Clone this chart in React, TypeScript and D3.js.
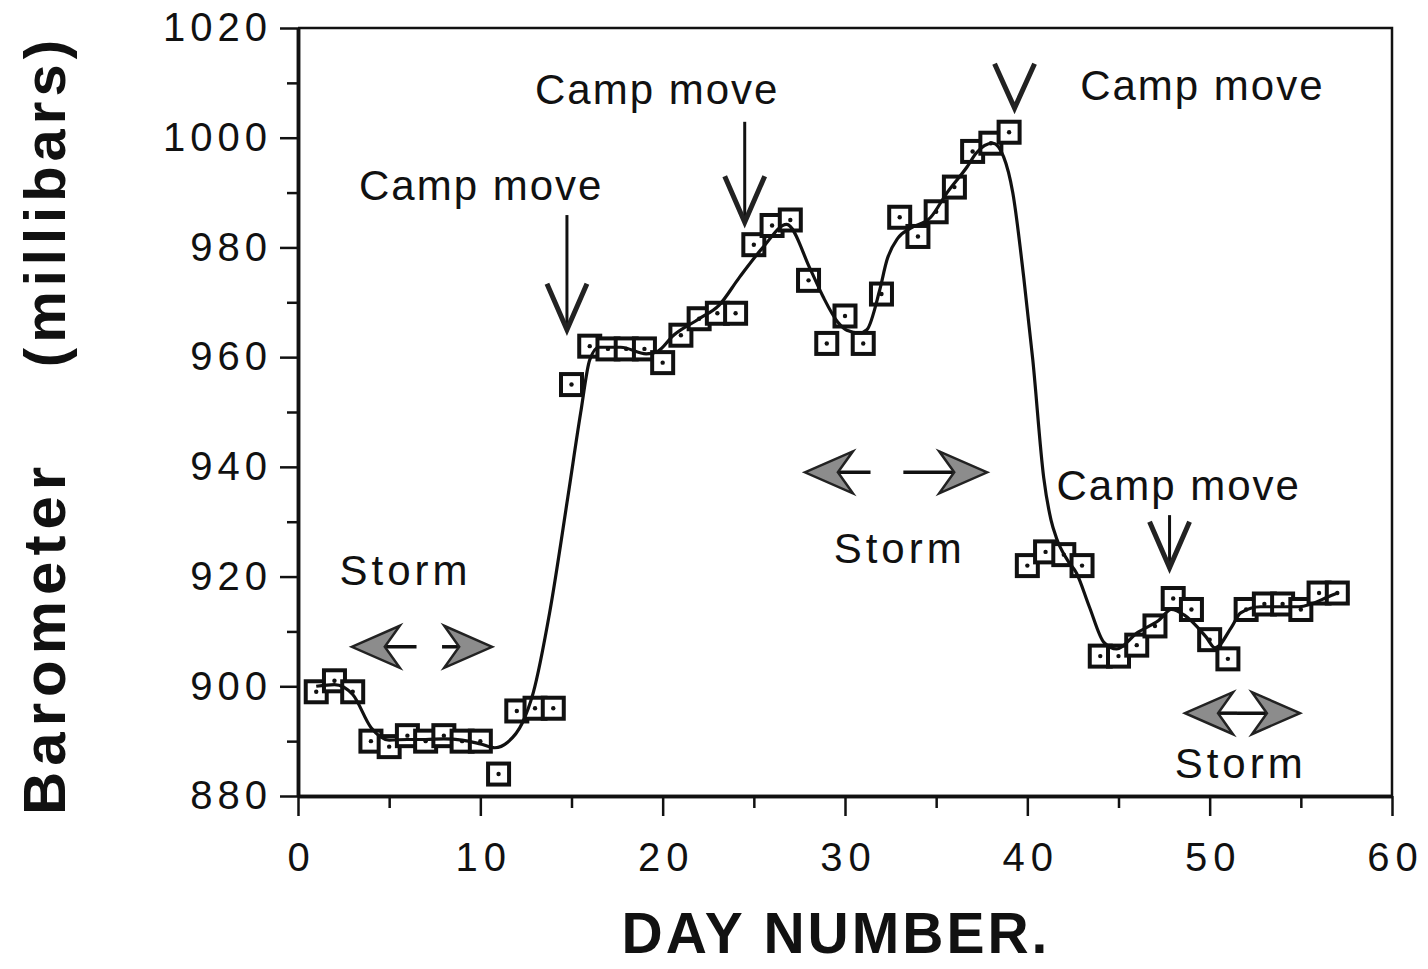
import React, { useRef, useEffect } from "react"
import * as d3 from "d3"

// measured barometer readings, one per day
const days = [
    1, 2, 3, 4, 5, 6, 7, 8, 9, 10, 11, 12, 13, 14, 15, 16, 17, 18, 19, 20, 21,
    22, 23, 24, 25, 26, 27, 28, 29, 30, 31, 32, 33, 34, 35, 36, 37, 38, 39, 40,
    41, 42, 43, 44, 45, 46, 47, 48, 49, 50, 51, 52, 53, 54, 55, 56, 57,
]
const pressure = [
    899, 901, 899, 890, 889, 891, 890, 891, 890, 890, 884, 895.5, 896, 896, 955,
    962, 961.5, 961.5, 961.5, 959, 964, 967, 968, 968, 980.5, 984, 985, 974,
    962.5, 967.5, 962.5, 971.5, 985.5, 982, 986.5, 991, 997.5, 999, 1001, 922,
    924.5, 924, 922, 905.5, 905.5, 907.5, 911, 916, 914, 908.5, 905, 914, 915,
    915, 914, 917, 917,
]

// smoothed trend line as drawn on the figure
const fitDays = [
    1, 2, 3, 4, 5, 6, 7, 8, 9, 10, 10.8, 11.5, 12.3, 12.9, 13.8, 14.8, 15.5,
    16, 16.5, 17.7, 19.1, 19.7, 20.6, 22, 23.1, 24.2, 25.5, 26.8, 28.1, 28.8,
    29.6, 30.1, 30.8, 31.2, 31.9, 32.3, 32.9, 33.6, 34.7, 35.6, 36.7, 37.2,
    38.1, 38.7, 39.2, 39.8, 40.3, 40.9, 41.3, 41.6, 42.2, 42.7, 43.4, 44.2,
    44.9, 46, 47.2, 47.9, 48.6, 49.8, 50.3, 51.2, 51.7, 52.8, 54.9, 56.7, 57,
]
const fitValues = [
    900, 900.3, 898.5, 892.5, 890.2, 890.3, 890.3, 890.4, 890.2, 889.5, 888.8,
    889.8, 893.3, 898.8, 913.4, 934.5, 949.8, 959.5, 961.8, 961.8, 960.6, 961,
    964, 967, 969.5, 974.5, 980, 984.2, 976, 971, 966.4, 964.9, 964.4, 965,
    972.2, 977.7, 981.7, 983.5, 985.5, 990, 994.7, 997.2, 999, 996.5, 990,
    974.6, 959.5, 938, 930.3, 927, 923, 920.6, 914.5, 908, 906.8, 909.7, 912,
    914, 913, 909, 907, 910.8, 913.4, 914.5, 914.5, 916.6, 917,
]

const yTicks = [880, 900, 920, 940, 960, 980, 1000, 1020]
const yMinor = [890, 910, 930, 950, 970, 990, 1010]
const xTicks = [0, 10, 20, 30, 40, 50, 60]
const xMinor = [5, 15, 25, 35, 45, 55]

// annotations in data units: [textDay, textMb, arrowDay, arrowTopMb, arrowTipMb]
const campMoves = [
    [10.05, 988.6, 14.75, 985.9, 965],
    [19.7, 1006.1, 24.5, 1002.9, 984.6],
    [49.6, 1006.9, 39.3, 1013.5, 1005.4],
    [48.3, 934, 47.8, 931.2, 921.6],
]
// [textDay, textMb, arrowMb, leftTip, leftEnd, rightStart, rightTip]
const storms = [
    [5.9, 918.5, 907.2, 2.95, 6.5, 7.9, 10.65],
    [33, 922.5, 939, 27.8, 31.4, 33.2, 37.8],
    [51.7, 883.3, 895.1, 48.65, 51.5, 51.5, 54.95],
]

const FONT = "'Liberation Sans', Arial, Helvetica, sans-serif"

export default function App() {
    const ref = useRef<SVGSVGElement>(null)

    useEffect(() => {
        const svg = d3.select(ref.current)
        svg.selectAll("*").remove()

        const x = d3.scaleLinear().domain([0, 60]).range([298, 1392])
        const y = d3.scaleLinear().domain([880, 1020]).range([796, 28])

        svg.append("rect")
            .attr("width", 1428)
            .attr("height", 969)
            .attr("fill", "#fff")

        // frame (top + right)
        svg.append("path")
            .attr("d", `M${x(0)},${y(1020)}H${x(60)}V${y(880)}`)
            .attr("fill", "none")
            .attr("stroke", "#111")
            .attr("stroke-width", 2.5)

        // y axis
        const gy = svg.append("g").attr("transform", `translate(${x(0)},0)`)
        gy.call(
            d3
                .axisLeft(y)
                .tickValues(yTicks)
                .tickSize(18)
                .tickSizeOuter(0)
                .tickPadding(8)
                .tickFormat(d3.format("d"))
        )
        gy.append("g").call(
            d3
                .axisLeft(y)
                .tickValues(yMinor)
                .tickSize(11)
                .tickSizeOuter(0)
                .tickFormat(() => "")
        )
        gy.selectAll(".domain").attr("stroke", "#111").attr("stroke-width", 3.5)
        gy.selectAll("line").attr("stroke", "#111").attr("stroke-width", 2.5)
        gy.selectAll("text")
            .attr("font-family", FONT)
            .attr("font-size", 40)
            .attr("letter-spacing", 5)
            .attr("fill", "#111")

        // x axis
        const gx = svg.append("g").attr("transform", `translate(0,${y(880)})`)
        gx.call(
            d3
                .axisBottom(x)
                .tickValues(xTicks)
                .tickSize(20)
                .tickSizeOuter(0)
                .tickPadding(27)
        )
        gx.append("g").call(
            d3
                .axisBottom(x)
                .tickValues(xMinor)
                .tickSize(12)
                .tickSizeOuter(0)
                .tickFormat(() => "")
        )
        gx.selectAll(".domain").attr("stroke", "#111").attr("stroke-width", 3.5)
        gx.selectAll("line").attr("stroke", "#111").attr("stroke-width", 2.5)
        gx.selectAll("text")
            .attr("font-family", FONT)
            .attr("font-size", 40)
            .attr("letter-spacing", 6)
            .attr("dx", 3)
            .attr("fill", "#111")

        // axis titles
        svg.append("text")
            .attr("transform", "translate(65,815) rotate(-90)")
            .attr("font-family", FONT)
            .attr("font-weight", "bold")
            .attr("font-size", 60)
            .attr("letter-spacing", 6)
            .attr("fill", "#111")
            .text("Barometer")
        svg.append("text")
            .attr("transform", "translate(65,35) rotate(-90)")
            .attr("text-anchor", "end")
            .attr("font-family", FONT)
            .attr("font-weight", "bold")
            .attr("font-size", 58)
            .attr("letter-spacing", 5)
            .attr("fill", "#111")
            .text("(millibars)")
        svg.append("text")
            .attr("x", 836)
            .attr("y", 953)
            .attr("text-anchor", "middle")
            .attr("font-family", FONT)
            .attr("font-weight", "bold")
            .attr("font-size", 57)
            .attr("letter-spacing", 3)
            .attr("fill", "#111")
            .text("DAY NUMBER.")

        // data markers
        const pts = days.map((d, i) => [d, pressure[i]] as [number, number])
        const s = 21
        const mk = svg.append("g")
        mk.selectAll("rect")
            .data(pts)
            .enter()
            .append("rect")
            .attr("x", (d) => x(d[0]) - s / 2)
            .attr("y", (d) => y(d[1]) - s / 2)
            .attr("width", s)
            .attr("height", s)
            .attr("fill", "#fff")
            .attr("stroke", "#111")
            .attr("stroke-width", 4)
        mk.selectAll("circle")
            .data(pts)
            .enter()
            .append("circle")
            .attr("cx", (d) => x(d[0]))
            .attr("cy", (d) => y(d[1]))
            .attr("r", 2.2)
            .attr("fill", "#111")

        // smooth curve
        const fit = fitDays.map((d, i) => [d, fitValues[i]] as [number, number])
        svg.append("path")
            .datum(fit)
            .attr("fill", "none")
            .attr("stroke", "#111")
            .attr("stroke-width", 3.2)
            .attr(
                "d",
                d3
                    .line<[number, number]>()
                    .x((d) => x(d[0]))
                    .y((d) => y(d[1]))
                    .curve(d3.curveMonotoneX)
            )

        // camp move annotations
        const ann = svg.append("g")
        campMoves.forEach(([td, tm, ad, top, tip], i) => {
            ann.append("text")
                .attr("x", x(td))
                .attr("y", y(tm))
                .attr("text-anchor", "middle")
                .attr("font-family", FONT)
                .attr("font-size", 42)
                .attr("letter-spacing", 2)
                .attr("fill", "#111")
                .text("Camp move")
            const ax = x(ad)
            const yTip = y(tip)
            const head = i === 2 ? y(top) - yTip : -46
            if (i !== 2) {
                ann.append("line")
                    .attr("x1", ax)
                    .attr("x2", ax)
                    .attr("y1", y(top))
                    .attr("y2", yTip)
                    .attr("stroke", "#111")
                    .attr("stroke-width", 3)
            }
            ann.append("path")
                .attr(
                    "d",
                    `M${ax - 20},${yTip + head}L${ax},${yTip}L${ax + 20},${yTip + head}`
                )
                .attr("fill", "none")
                .attr("stroke", "#222")
                .attr("stroke-width", 5)
                .attr("stroke-linejoin", "miter")
        })

        // storm annotations with grey dart arrowheads
        const dart = (tipX: number, cy: number, dir: number) => {
            const L = 48
            const W = 21
            const N = 33
            return `M${tipX},${cy}L${tipX + dir * L},${cy - W}L${tipX + dir * N},${cy}L${tipX + dir * L},${cy + W}Z`
        }
        storms.forEach(([td, tm, am, lt, le, rs, rt]) => {
            ann.append("text")
                .attr("x", x(td))
                .attr("y", y(tm))
                .attr("text-anchor", "middle")
                .attr("font-family", FONT)
                .attr("font-size", 42)
                .attr("letter-spacing", 4)
                .attr("fill", "#111")
                .text("Storm")
            const cy = y(am)
            ann.append("line")
                .attr("x1", x(lt) + 30)
                .attr("x2", x(le))
                .attr("y1", cy)
                .attr("y2", cy)
                .attr("stroke", "#111")
                .attr("stroke-width", 3.5)
            ann.append("line")
                .attr("x1", x(rs))
                .attr("x2", x(rt) - 30)
                .attr("y1", cy)
                .attr("y2", cy)
                .attr("stroke", "#111")
                .attr("stroke-width", 3.5)
            ann.append("path")
                .attr("d", dart(x(lt), cy, 1))
                .attr("fill", "#8c8c8c")
                .attr("stroke", "#222")
                .attr("stroke-width", 2.5)
            ann.append("path")
                .attr("d", dart(x(rt), cy, -1))
                .attr("fill", "#8c8c8c")
                .attr("stroke", "#222")
                .attr("stroke-width", 2.5)
        })
    }, [])

    return (
        <div style={{ position: "absolute", left: 0, top: 0 }}>
            <svg ref={ref} width={1428} height={969} viewBox="0 0 1428 969" />
        </div>
    )
}
